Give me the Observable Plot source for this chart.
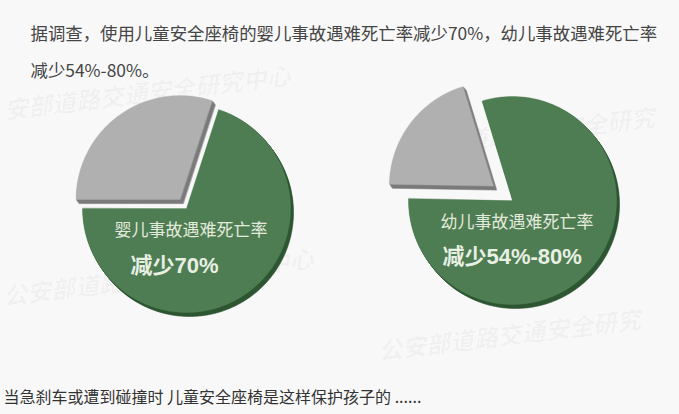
<!DOCTYPE html>
<html><head><meta charset="utf-8">
<script src="https://cdn.jsdelivr.net/npm/d3@7"></script>
<script src="https://cdn.jsdelivr.net/npm/@observablehq/plot@0.6"></script>
<style>
html,body{margin:0;padding:0;background:#f8f8f8;}
#chart svg{display:block;}
</style></head><body><div id="chart"></div>
<script>
// ---- data ----
const titleLines = ["据调查，使用儿童安全座椅的婴儿事故遇难死亡率减少70%，幼儿事故遇难死亡率", "减少54%-80%。"];
const caption = "当急刹车或遭到碰撞时 儿童安全座椅是这样保护孩子的 ......";
const groups = ["婴儿", "幼儿"];
const reducedShare = [70, 80];
const remainingShare = [30, 20];
const sliceLabels = ["婴儿事故遇难死亡率", "幼儿事故遇难死亡率"];
const valueLabels = ["减少70%", "减少54%-80%"];
const watermarkTexts = ["安部道路交通安全研究中心", "公安部道路交通安全研究", "公安部道路交通安全研究中心", "公安部道路交通安全研究"];

// ---- layout ----
const W = 679, H = 414;
const centers = [[186, 208], [512, 200]];
const R = 104;
const startDeg = [18, -17];
const explode = [11, 24];
const depth = 4;
const topColors = ["#4f7d53", "#b0b0b0"];
const sideColors = ["#2e5632", "#7a7a7a"];
const labelPos = [[114, 230, 130, 265], [440, 222, 442, 256]];
const markPos = [[4, 111], [392, 150], [3, 297], [378, 352]];

const rad = Math.PI / 180;
const topRows = [], sideRows = [];
groups.forEach((g, i) => {
  const a0 = startDeg[i] * rad;
  const arcs = d3.pie().sort(null).startAngle(a0).endAngle(a0 + 2 * Math.PI)([reducedShare[i], remainingShare[i]]);
  arcs.forEach((a, j) => {
    const mid = (a.startAngle + a.endAngle) / 2;
    const off = j === 1 ? explode[i] : 0;
    const cx = centers[i][0] + off * Math.sin(mid), cy = centers[i][1] - off * Math.cos(mid);
    const pts = [[cx, cy]];
    const n = Math.ceil((a.endAngle - a.startAngle) / rad);
    for (let k = 0; k <= n; k++) {
      const t = a.startAngle + (a.endAngle - a.startAngle) * k / n;
      pts.push([cx + R * Math.sin(t), cy - R * Math.cos(t)]);
    }
    for (let d = depth; d >= 1; d--) {
      pts.forEach(([x, y]) => sideRows.push({key: `${g}-${j}-${d}`, x: x + d * 0.75, y: y + d, fill: sideColors[j]}));
    }
    pts.forEach(([x, y]) => topRows.push({key: `${g}-${j}`, x, y, fill: topColors[j]}));
  });
});

const titleRows = titleLines.map((t, k) => ({t, x: 30, y: 34 + 37 * k}));
const captionRows = [{t: caption, x: 3, y: 397}];
const label1 = sliceLabels.map((t, i) => ({t, x: labelPos[i][0], y: labelPos[i][1]}));
const label2 = valueLabels.map((t, i) => ({t, x: labelPos[i][2], y: labelPos[i][3]}));
const marks = markPos.map(([x, y], k) => ({t: watermarkTexts[k], x, y}));

const cjk = "'Noto Sans CJK SC', 'Noto Sans', sans-serif";
const plot = Plot.plot({
  width: W, height: H, margin: 0,
  x: {domain: [0, W], range: [0, W], axis: null},
  y: {domain: [0, H], range: [0, H], axis: null},
  color: {type: "identity"},
  style: {background: "#f8f8f8", fontFamily: cjk},
  marks: [
    Plot.text(marks, {x: "x", y: "y", text: "t", textAnchor: "start", rotate: -7, fontSize: 24, fontWeight: "bold", fontStyle: "italic", fill: "#000", fillOpacity: 0.035}),
    Plot.line(sideRows, {x: "x", y: "y", z: "key", fill: "fill", stroke: "fill", strokeWidth: 0.6, curve: "linear-closed"}),
    Plot.line(topRows, {x: "x", y: "y", z: "key", fill: "fill", stroke: "fill", strokeWidth: 0.4, curve: "linear-closed"}),
    Plot.text(label1, {x: "x", y: "y", text: "t", textAnchor: "start", fontSize: 17, fill: "#e2eadc"}),
    Plot.text(label2, {x: "x", y: "y", text: "t", textAnchor: "start", fontSize: 22, fontWeight: "bold", fill: "#e8efe3", fontFamily: "'Liberation Sans', 'Noto Sans CJK SC', sans-serif"}),
    Plot.text(titleRows, {x: "x", y: "y", text: "t", textAnchor: "start", fontSize: 17.4, fill: "#454545"}),
    Plot.text(captionRows, {x: "x", y: "y", text: "t", textAnchor: "start", fontSize: 16, fill: "#333"})
  ]
});
document.getElementById("chart").appendChild(plot);
</script></body></html>
